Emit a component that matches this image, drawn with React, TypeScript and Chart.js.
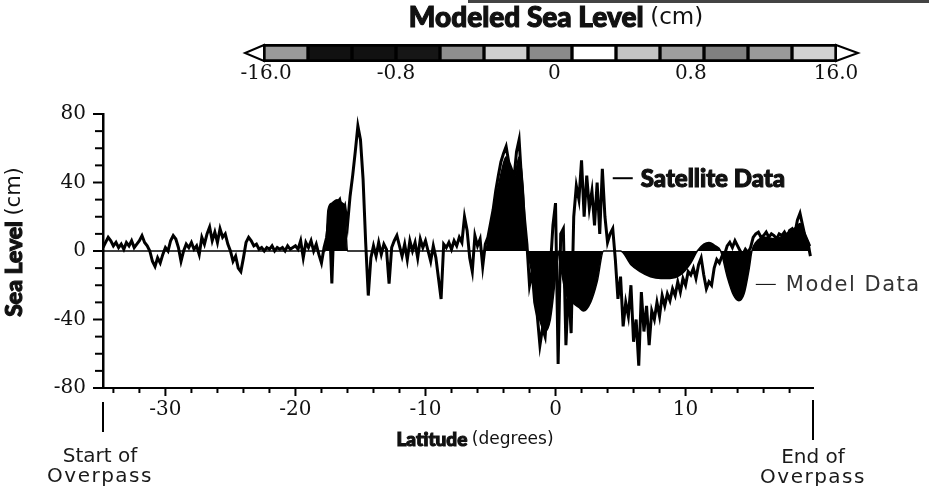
import React, { useEffect, useRef } from "react";
import { Chart, registerables } from "chart.js";

Chart.register(...registerables);

// ---------- data ----------
const latStart = -34.8;
const latStep = 0.2;
const satelliteValues = [
  2, 5, 8, 6, 3, 5, 2, 4, 1, 5, 3, 6, 2, 4, 6, 9, 5, 3, 0, -6, -9, -4, -7, -2, 2,
  0, 6, 9, 7, 2, -6, 0, 4, 2, 5, 1, 3, -2, 8, 4, 10, 14, 6, 11, 5, 13, 8, 10, 4, 0,
  -6, -3, -10, -12, -4, 5, 8, 6, 3, 4, 1, 2, 0, 2, 1, 3, 0, 2, 1, 2, 0, 3, 1, 2, 3,
  1, 6, -4, 5, 2, 6, 0, 4, -2, -7, 2, 8, 20, -19, 25, 28, 30, 22, 26, 15, 32, 44, 58, 73, 65,
  42, 5, -26, -4, 3, -3, 5, -2, 4, 1, -19, 2, 6, 9, 3, -3, 4, -5, 6, 0, 5, -4, 7, 2, 6,
  0, -6, 3, -4, -16, -28, 4, 2, 5, 1, 6, 3, 8, 5, 20, 12, -4, -12, 9, 3, 7, -9, 4, 8, 16,
  24, 35, 44, 52, 57, 61, 52, 48, 42, 58, 65, 40, 20, 4, -20, -12, -30, -38, -55, -45, -50, -30, -10, 15, 28,
  -66, 10, 13, -55, -20, -48, 20, 38, 30, 53, 20, 44, 25, 35, 15, 40, 10, 48, 20, 5, 10, 13, -5, -28, -15,
  -44, -30, -38, -20, -53, -40, -67, -24, -47, -32, -55, -35, -40, -30, -38, -26, -32, -25, -29, -22, -26, -18, -24, -16, -20,
  -12, -14, -10, -16, -8, -4, -14, -22, -18, -20, -10, -5, -7, -3, -2, 3, 5, 2, 6, 3, 0, -2, 1, -1, 2,
  8, 10, 11, 8, 9, 11, 8, 10, 9, 7, 10, 9, 11, 8, 12, 13, 10, 18, 22, 15, 8, 5, -3,
];

const modelLat = [
  -34.8, -17.7, -17.5, -17.2, -16.8, -16.4, -16.2, -16.0, -5.4, -5.2, -4.8, -4.2, -3.8, -3.5, -3.2, -2.8,
  -2.5, -2.3, -2.15, -1.9, -1.5, -1.15, -0.8, -0.4, 0, 0.2, 0.3, 0.8, 1.3, 1.8, 2.15, 2.7, 3.2, 3.7, 5.0,
  5.8, 6.5, 7.3, 8.1, 8.8, 9.6, 10.4, 10.9, 11.4, 11.8, 12.3, 12.7, 13.2, 13.7, 14.1, 14.5, 14.9, 15.1,
  15.4, 16.2, 16.9, 17.7, 18.5, 18.8, 19.2, 19.6,
];
const modelValues = [
  0, 0, 24, 28, 30, 28, 26, 0, 0, 6, 22, 45, 55, 48, 42, 55,
  38, 10, 0, -10, -30, -42, -47, -40, -15, 0, -5, -25, -30, -33, -35, -30, -18, 0, 0,
  -8, -12, -15, -16, -16, -14, -7, 0, 4, 5, 3, 0, -15, -26, -29, -25, -10, 0,
  5, 8, 7, 10, 14, 16, 10, 3,
];

const xMin = -34.8;
const xMax = 19.8;
const xTickValues = [-30, -20, -10, 0, 10];
const xMinorTicks = [-34, -32, -30, -28, -26, -24, -22, -20, -18, -16, -14, -12, -10, -8, -6, -4, -2, 0, 2, 4, 6, 8, 10, 12, 14, 16, 18];
const yMin = -80;
const yMax = 80;
const yTickValues = [-80, -40, 0, 40, 80];
const yMinorTicks = [-80, -70, -60, -50, -40, -30, -20, -10, 0, 10, 20, 30, 40, 50, 60, 70, 80];

const colorbarEdges = [0, 1, 2, 3, 4, 5, 6, 7, 8, 9, 10, 11, 12, 13];
const colorbarColors = [
  "#9a9a9a", "#111111", "#111111", "#161616", "#8e8e8e", "#cfcfcf", "#8a8a8a",
  "#ffffff", "#c4c4c4", "#9e9e9e", "#808080", "#9a9a9a", "#d2d2d2",
];
const colorbarTickPos = [0.05, 3, 6.6, 9.7, 13];
const colorbarTickLabels = ["-16.0", "-0.8", "0", "0.8", "16.0"];

// ---------- styles ----------
const SERIF = '"DejaVu Serif", serif';
const bold = (s: number) => `900 ${s}px Lato, "DejaVu Sans", sans-serif`;
const light = (s: number) => `400 ${s}px "DejaVu Sans", sans-serif`;

type Part = { text: string; font: string; heavy?: boolean; spacing?: number };
function drawMixed(ctx: CanvasRenderingContext2D, parts: Part[], cx: number, cy: number, align = "center") {
  const c = ctx as any;
  const widths = parts.map((p) => {
    ctx.font = p.font;
    c.letterSpacing = `${p.spacing || 0}px`;
    return ctx.measureText(p.text).width;
  });
  const total = widths.reduce((a, b) => a + b, 0);
  let x = align === "center" ? cx - total / 2 : cx;
  ctx.textAlign = "left";
  ctx.textBaseline = "middle";
  parts.forEach((p, i) => {
    ctx.font = p.font;
    c.letterSpacing = `${p.spacing || 0}px`;
    ctx.fillText(p.text, x, cy);
    if (p.heavy) {
      ctx.save();
      ctx.lineWidth = 1.1;
      ctx.strokeStyle = ctx.fillStyle as string;
      ctx.strokeText(p.text, x, cy);
      ctx.restore();
    }
    x += widths[i];
  });
  c.letterSpacing = "0px";
}

const mainDecor = {
  id: "mainDecor",
  afterDraw(chart: any) {
    const { ctx, chartArea } = chart;
    const xs = chart.scales.x;
    const ys = chart.scales.y;
    ctx.save();
    ctx.strokeStyle = "#000";
    ctx.fillStyle = "#111";
    ctx.lineWidth = 2;
    // minor / major ticks
    xMinorTicks.forEach((v) => {
      const px = xs.getPixelForValue(v);
      const len = xTickValues.includes(v) ? 8 : 5;
      ctx.beginPath();
      ctx.moveTo(px, chartArea.bottom);
      ctx.lineTo(px, chartArea.bottom + len);
      ctx.stroke();
    });
    yMinorTicks.forEach((v) => {
      const py = ys.getPixelForValue(v);
      const len = yTickValues.includes(v) ? 10 : 8;
      ctx.beginPath();
      ctx.moveTo(chartArea.left - len, py);
      ctx.lineTo(chartArea.left, py);
      ctx.stroke();
    });
    // overpass markers
    const sx = xs.getPixelForValue(xMin);
    const ex = xs.getPixelForValue(xMax);
    ctx.beginPath();
    ctx.moveTo(sx, chartArea.bottom + 14);
    ctx.lineTo(sx, chartArea.bottom + 44);
    ctx.moveTo(ex, chartArea.bottom + 12);
    ctx.lineTo(ex, chartArea.bottom + 52);
    ctx.stroke();
    ctx.fillStyle = "#1a1a1a";
    drawMixed(ctx, [{ text: "Start of", font: light(20) }], sx - 3, chartArea.bottom + 69);
    drawMixed(ctx, [{ text: "Overpass", font: light(20), spacing: 1.5 }], sx - 3, chartArea.bottom + 89);
    drawMixed(ctx, [{ text: "End of", font: light(20) }], ex, chartArea.bottom + 70);
    drawMixed(ctx, [{ text: "Overpass", font: light(20), spacing: 1.5 }], ex, chartArea.bottom + 90);

    // axis titles
    ctx.fillStyle = "#111";
    drawMixed(
      ctx,
      [
        { text: "Latitude ", font: bold(19), heavy: true },
        { text: "(degrees)", font: light(17) },
      ],
      475,
      chartArea.bottom + 52
    );
    ctx.save();
    ctx.translate(15, 242);
    ctx.rotate(-Math.PI / 2);
    drawMixed(
      ctx,
      [
        { text: "Sea Level ", font: bold(23), heavy: true },
        { text: "(cm)", font: light(21) },
      ],
      0,
      0
    );
    ctx.restore();

    // series annotations
    const satX = xs.getPixelForValue(4.4);
    const satY = ys.getPixelForValue(42.5);
    ctx.lineWidth = 2;
    ctx.beginPath();
    ctx.moveTo(satX, satY);
    ctx.lineTo(satX + 20, satY);
    ctx.stroke();
    drawMixed(ctx, [{ text: "Satellite Data", font: bold(24), heavy: true }], satX + 28, satY + 1, "left");

    const modX = xs.getPixelForValue(15.4);
    const modY = ys.getPixelForValue(-19.5);
    ctx.lineWidth = 1;
    ctx.beginPath();
    ctx.moveTo(modX, modY);
    ctx.lineTo(modX + 20, modY);
    ctx.stroke();
    ctx.fillStyle = "#333";
    drawMixed(ctx, [{ text: "Model Data", font: light(21), spacing: 1.5 }], modX + 30, modY + 1, "left");
    ctx.restore();
  },
};

const colorbarDecor = {
  id: "colorbarDecor",
  afterDatasetsDraw(chart: any) {
    const { ctx, chartArea } = chart;
    const xs = chart.scales.x;
    const l = xs.getPixelForValue(colorbarEdges[0]);
    const r = xs.getPixelForValue(colorbarEdges[colorbarEdges.length - 1]);
    const t = chartArea.top;
    const b = chartArea.bottom;
    const mid = (t + b) / 2;
    ctx.save();
    ctx.strokeStyle = "#000";
    ctx.lineWidth = 2;
    ctx.fillStyle = "#fff";
    ctx.beginPath();
    ctx.moveTo(l, t);
    ctx.lineTo(l - 19, mid);
    ctx.lineTo(l, b);
    ctx.closePath();
    ctx.fill();
    ctx.stroke();
    ctx.beginPath();
    ctx.moveTo(r, t);
    ctx.lineTo(r + 22, mid);
    ctx.lineTo(r, b);
    ctx.closePath();
    ctx.fill();
    ctx.stroke();
    ctx.strokeRect(l, t, r - l, b - t);
    ctx.fillStyle = "#111";
    drawMixed(
      ctx,
      [
        { text: "Modeled Sea Level ", font: bold(28), heavy: true },
        { text: "(cm)", font: light(23) },
      ],
      556,
      18
    );
    ctx.restore();
  },
};

export default function App() {
  const mainRef = useRef<HTMLCanvasElement>(null);
  const barRef = useRef<HTMLCanvasElement>(null);

  useEffect(() => {
    const satellitePoints = satelliteValues.map((v, i) => ({ x: +(latStart + i * latStep).toFixed(2), y: v }));
    const modelPoints = modelLat.map((x, i) => ({ x, y: modelValues[i] }));

    const main = new Chart(mainRef.current!, {
      type: "line",
      data: {
        datasets: [
          {
            label: "Model Data",
            data: modelPoints,
            borderColor: "#000",
            backgroundColor: "#000",
            borderWidth: 1.5,
            fill: "origin",
            pointRadius: 0,
            cubicInterpolationMode: "monotone",
          },
          {
            label: "Satellite Data",
            data: satellitePoints,
            borderColor: "#000",
            borderWidth: 3,
            fill: false,
            pointRadius: 0,
            tension: 0,
          },
        ],
      },
      options: {
        animation: false,
        responsive: false,
        maintainAspectRatio: false,
        layout: { padding: { top: 114, right: 116, left: 0, bottom: 0 } },
        plugins: { legend: { display: false }, tooltip: { enabled: false } },
        scales: {
          x: {
            type: "linear",
            min: xMin,
            max: xMax,
            afterBuildTicks: (a: any) => {
              a.ticks = xTickValues.map((v) => ({ value: v }));
            },
            afterFit: (s: any) => {
              s.height = 98;
            },
            grid: { display: false, drawTicks: false },
            border: { display: true, color: "#000", width: 2 },
            ticks: { padding: 10, color: "#111", font: { family: SERIF, size: 20 }, maxRotation: 0 },
          },
          y: {
            type: "linear",
            min: yMin,
            max: yMax,
            afterBuildTicks: (a: any) => {
              a.ticks = yTickValues.map((v) => ({ value: v }));
            },
            afterFit: (s: any) => {
              s.width = 103;
            },
            grid: { display: false, drawTicks: false },
            border: { display: true, color: "#000", width: 2.5 },
            ticks: { padding: 17, color: "#111", font: { family: SERIF, size: 20 } },
          },
        },
      },
      plugins: [mainDecor],
    } as any);

    const bar = new Chart(barRef.current!, {
      type: "bar",
      data: {
        labels: ["level"],
        datasets: colorbarColors.map((c, i) => ({
          data: [[colorbarEdges[i], colorbarEdges[i + 1]]],
          backgroundColor: c,
          borderColor: "#000",
          borderWidth: 2,
          borderSkipped: false,
          grouped: false,
          barPercentage: 1,
          categoryPercentage: 1,
        })),
      },
      options: {
        indexAxis: "y",
        animation: false,
        responsive: false,
        maintainAspectRatio: false,
        layout: { padding: { top: 45, left: 264, right: 93, bottom: 0 } },
        plugins: { legend: { display: false }, tooltip: { enabled: false } },
        scales: {
          y: { display: false },
          x: {
            type: "linear",
            min: colorbarEdges[0],
            max: colorbarEdges[colorbarEdges.length - 1],
            afterBuildTicks: (a: any) => {
              a.ticks = colorbarTickPos.map((v) => ({ value: v }));
            },
            afterFit: (s: any) => {
              s.height = 29;
            },
            grid: { display: false, drawTicks: false },
            border: { display: false },
            ticks: {
              padding: 1,
              color: "#111",
              font: { family: SERIF, size: 20 },
              maxRotation: 0,
              autoSkip: false,
              callback: (_v: any, i: number) => colorbarTickLabels[i],
            },
          },
        },
      },
      plugins: [colorbarDecor],
    } as any);

    return () => {
      main.destroy();
      bar.destroy();
    };
  }, []);

  return (
    <div style={{ position: "fixed", left: 0, top: 0, width: 929, height: 486, background: "#fff" }}>
      <div style={{ position: "absolute", left: 468, top: 0, width: 461, height: 3, background: "#444" }} />
      <canvas ref={mainRef} width={929} height={486} style={{ position: "absolute", left: 0, top: 0, width: 929, height: 486 }} />
      <canvas ref={barRef} width={929} height={90} style={{ position: "absolute", left: 0, top: 0, width: 929, height: 90 }} />
    </div>
  );
}
